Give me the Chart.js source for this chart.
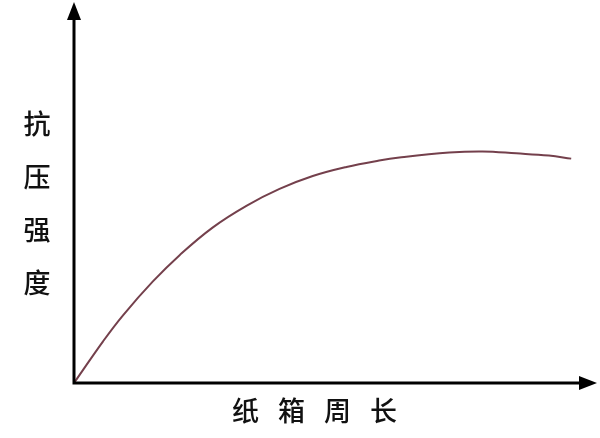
<!DOCTYPE html>
<html>
<head>
<meta charset="utf-8">
<script src="https://cdn.jsdelivr.net/npm/chart.js@4"></script>
<style>
    body { margin: 0; background: #fff; }
    #wrap { position: relative; width: 600px; height: 438px; }
    .ylab {
        position: absolute; left: 22px; top: 96px; width: 30px;
        font-family: "Noto Sans CJK SC", sans-serif; font-size: 27px; font-weight: 500;
        line-height: 53px; color: #111; text-align: center;
    }
    .xlab {
        position: absolute; left: 232px; top: 390px;
        font-family: "Noto Sans CJK SC", sans-serif; font-size: 27px; font-weight: 500;
        letter-spacing: 19px; color: #111; white-space: nowrap;
    }
</style>
</head>
<body>
<div id="wrap">
    <canvas id="curveChart" width="600" height="438"></canvas>
    <div class="ylab">抗<br>压<br>强<br>度</div>
    <div class="xlab">纸箱周长</div>
</div>
<script>
// perimeter (arbitrary units) vs compressive strength (arbitrary units)
const perimeter = [0, 5.6, 9.4, 15.2, 20.4, 26.7, 33.3, 39.6, 46.0, 52.5, 58.8, 62.7, 72.3, 78.7, 85.2, 91.5, 95.8];
const strength = [0, 11.0, 17.8, 26.8, 33.8, 41.0, 46.8, 51.2, 54.6, 57.0, 58.7, 59.5, 60.8, 61.1, 60.6, 60.0, 59.2];

// axes with arrow heads
const arrowAxes = {
    id: 'arrowAxes',
    afterDraw(chart) {
        const c = chart.ctx;
        const a = chart.chartArea;
        c.save();
        c.strokeStyle = '#000';
        c.fillStyle = '#000';
        c.lineWidth = 3;
        c.beginPath();
        c.moveTo(a.left, a.bottom);
        c.lineTo(a.left, a.top + 10);
        c.moveTo(a.left - 1.5, a.bottom);
        c.lineTo(a.right - 8, a.bottom);
        c.stroke();
        // up arrow
        c.beginPath();
        c.moveTo(a.left, a.top - 2);
        c.lineTo(a.left - 7, a.top + 16);
        c.lineTo(a.left + 7, a.top + 16);
        c.closePath();
        c.fill();
        // right arrow
        c.beginPath();
        c.moveTo(a.right + 4, a.bottom);
        c.lineTo(a.right - 14, a.bottom - 7);
        c.lineTo(a.right - 14, a.bottom + 7);
        c.closePath();
        c.fill();
        c.restore();
    }
};

const ctx = document.getElementById('curveChart').getContext('2d');
new Chart(ctx, {
    type: 'line',
    data: {
        datasets: [{
            data: perimeter.map((x, i) => ({ x: x, y: strength[i] })),
            borderColor: '#74404c',
            borderWidth: 2,
            pointRadius: 0,
            tension: 0.4,
            fill: false
        }]
    },
    options: {
        responsive: false,
        animation: false,
        layout: { padding: { left: 74, right: 7, top: 4, bottom: 55 } },
        scales: {
            x: { type: 'linear', min: 0, max: 100, display: false },
            y: { min: 0, max: 100, display: false }
        },
        plugins: {
            legend: { display: false },
            tooltip: { enabled: false }
        }
    },
    plugins: [arrowAxes]
});
</script>
</body>
</html>
